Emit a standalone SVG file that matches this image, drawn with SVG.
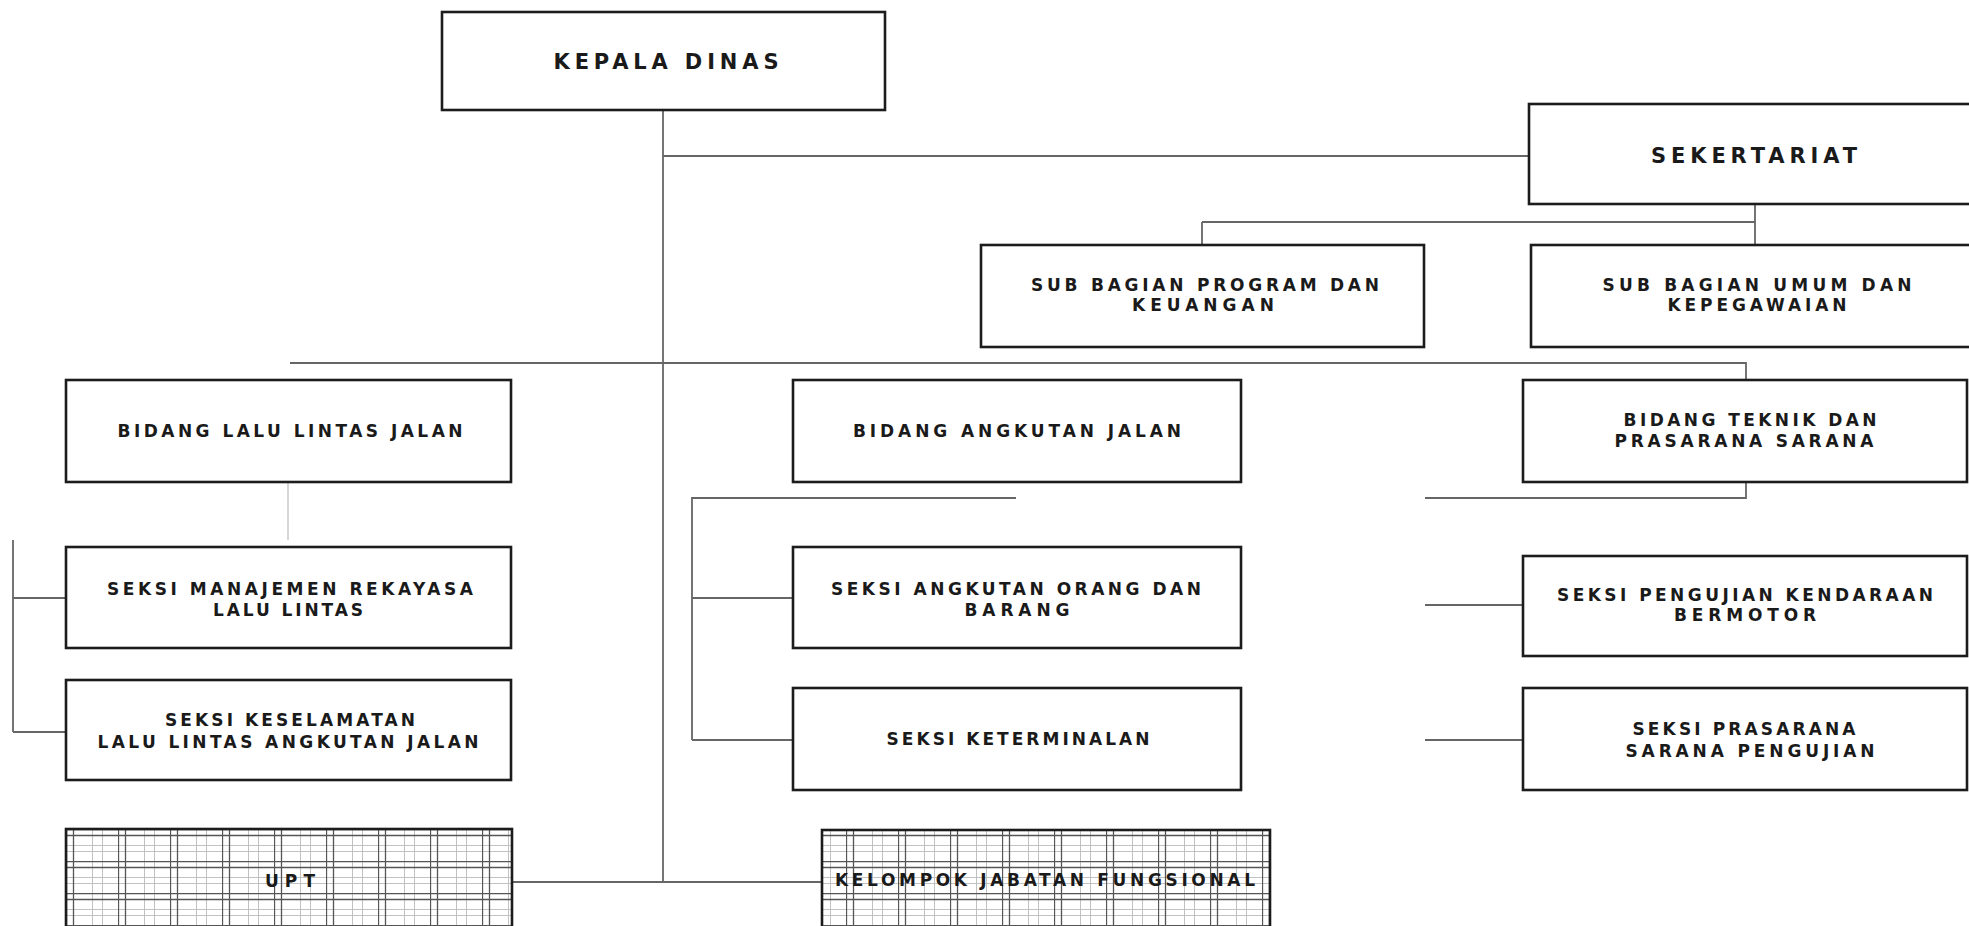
<svg xmlns="http://www.w3.org/2000/svg" width="1969" height="926" viewBox="0 0 1969 926">
<style>
.box{fill:#fff;stroke:#1c1c1c;stroke-width:2.6}
.grid{stroke:#1c1c1c;stroke-width:2.6}
.c{fill:none;stroke:#666;stroke-width:1.8}
.cf{fill:none;stroke:#c8c8c8;stroke-width:1.5}
text{font-family:"DejaVu Sans","Liberation Sans",Arial,sans-serif;font-weight:bold;font-size:17px;fill:#1a1a1a;text-anchor:middle}
.big{font-size:21px}
</style>
<defs>
<pattern id="hatch" patternUnits="userSpaceOnUse" x="66" y="829" width="52" height="32">
<rect width="52" height="32" fill="#fff"/>
<path d="M0 16.5H52M0 22.5H52M26.5 0V32M36.5 0V32" stroke="#bbb" stroke-width="0.9"/>
<path d="M0 0.5H52M0 6.5H52M0.5 0V32M7.5 0V32" stroke="#555" stroke-width="1.3"/>
</pattern>
</defs>
<rect width="1969" height="926" fill="#fff"/>
<g id="connectors">
<path class="c" d="M663 111V882"/>
<path class="c" d="M663 156H1529"/>
<path class="c" d="M1755 204V245M1202 222H1755M1202 222V245"/>
<path class="c" d="M290 363H1746V380"/>
<path class="cf" d="M288 482V540"/>
<path class="c" d="M13 540V732M13 598H66M13 732H66"/>
<path class="c" d="M1016 498H692V740M692 598H793M692 740H793"/>
<path class="c" d="M1746 482V498H1425M1425 605H1523M1425 740H1523"/>
<path class="c" d="M512 882H822"/>
</g>
<g id="kepala-dinas"><rect class="box" x="442" y="12" width="443" height="98"/><text class="big" x="666" y="69" textLength="225" lengthAdjust="spacing">KEPALA DINAS</text></g>
<g id="sekertariat"><rect class="box" x="1529" y="104" width="460" height="100"/><text class="big" x="1754" y="163" textLength="206" lengthAdjust="spacing">SEKERTARIAT</text></g>
<g id="sub-program"><rect class="box" x="981" y="245" width="443" height="102"/><text x="1205" y="291" textLength="348" lengthAdjust="spacing">SUB BAGIAN PROGRAM DAN</text><text x="1203" y="311" textLength="142" lengthAdjust="spacing">KEUANGAN</text></g>
<g id="sub-umum"><rect class="box" x="1531" y="245" width="460" height="102"/><text x="1757" y="291" textLength="309" lengthAdjust="spacing">SUB BAGIAN UMUM DAN</text><text x="1757" y="311" textLength="179" lengthAdjust="spacing">KEPEGAWAIAN</text></g>
<g id="bidang-lalu-lintas"><rect class="box" x="66" y="380" width="445" height="102"/><text x="290" y="437" textLength="345" lengthAdjust="spacing">BIDANG LALU LINTAS JALAN</text></g>
<g id="bidang-angkutan"><rect class="box" x="793" y="380" width="448" height="102"/><text x="1017" y="437" textLength="328" lengthAdjust="spacing">BIDANG ANGKUTAN JALAN</text></g>
<g id="bidang-teknik"><rect class="box" x="1523" y="380" width="444" height="102"/><text x="1750" y="426" textLength="253" lengthAdjust="spacing">BIDANG TEKNIK DAN</text><text x="1744" y="447" textLength="259" lengthAdjust="spacing">PRASARANA SARANA</text></g>
<g id="seksi-manajemen"><rect class="box" x="66" y="547" width="445" height="101"/><text x="290" y="595" textLength="366" lengthAdjust="spacing">SEKSI MANAJEMEN REKAYASA</text><text x="288" y="616" textLength="150" lengthAdjust="spacing">LALU LINTAS</text></g>
<g id="seksi-keselamatan"><rect class="box" x="66" y="680" width="445" height="100"/><text x="290" y="726" textLength="250" lengthAdjust="spacing">SEKSI KESELAMATAN</text><text x="288" y="748" textLength="381" lengthAdjust="spacing">LALU LINTAS ANGKUTAN JALAN</text></g>
<g id="seksi-angkutan"><rect class="box" x="793" y="547" width="448" height="101"/><text x="1016" y="595" textLength="370" lengthAdjust="spacing">SEKSI ANGKUTAN ORANG DAN</text><text x="1017" y="616" textLength="105" lengthAdjust="spacing">BARANG</text></g>
<g id="seksi-keterminalan"><rect class="box" x="793" y="688" width="448" height="102"/><text x="1018" y="745" textLength="263" lengthAdjust="spacing">SEKSI KETERMINALAN</text></g>
<g id="seksi-pengujian"><rect class="box" x="1523" y="556" width="444" height="100"/><text x="1745" y="601" textLength="376" lengthAdjust="spacing">SEKSI PENGUJIAN KENDARAAN</text><text x="1745" y="621" textLength="142" lengthAdjust="spacing">BERMOTOR</text></g>
<g id="seksi-prasarana"><rect class="box" x="1523" y="688" width="444" height="102"/><text x="1744" y="735" textLength="223" lengthAdjust="spacing">SEKSI PRASARANA</text><text x="1750" y="757" textLength="249" lengthAdjust="spacing">SARANA PENGUJIAN</text></g>
<g id="upt"><rect class="grid" x="66" y="829" width="446" height="110" fill="url(#hatch)"/><text x="290" y="887" textLength="50" lengthAdjust="spacing">UPT</text></g>
<g id="kelompok-jabatan"><rect class="grid" x="822" y="830" width="448" height="110" fill="url(#hatch)"/><text x="1045" y="886" textLength="420" lengthAdjust="spacing">KELOMPOK JABATAN FUNGSIONAL</text></g>
</svg>
